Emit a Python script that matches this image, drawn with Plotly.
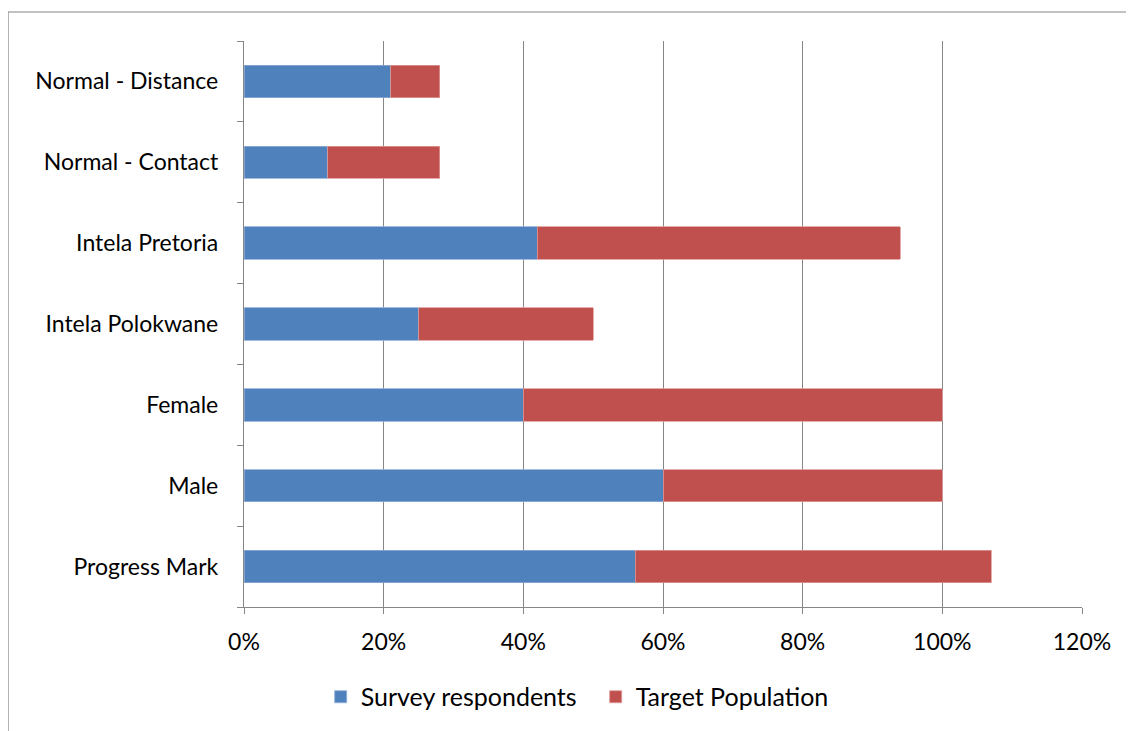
import plotly.graph_objects as go

categories = ["Progress Mark", "Male", "Female", "Intela Polokwane",
              "Intela Pretoria", "Normal - Contact", "Normal - Distance"]
survey_respondents = [0.56, 0.60, 0.40, 0.25, 0.42, 0.12, 0.21]
target_population = [0.51, 0.40, 0.60, 0.25, 0.52, 0.16, 0.07]
x_tick_vals = [0, 0.2, 0.4, 0.6, 0.8, 1.0, 1.2]
x_tick_text = ["0%", "20%", "40%", "60%", "80%", "100%", "120%"]

FONT = "Lato, 'Open Sans', sans-serif"
GRID = "#868686"

fig = go.Figure()
fig.add_trace(go.Bar(
    y=categories, x=survey_respondents, orientation="h",
    name="Survey respondents",
    marker=dict(color="#4F81BD", line=dict(color="#8EADD8", width=0.8)),
))
fig.add_trace(go.Bar(
    y=categories, x=target_population, orientation="h",
    name="Target Population",
    marker=dict(color="#C0504D", line=dict(color="#DE9896", width=0.8)),
))

fig.update_layout(
    barmode="stack",
    bargap=0.6,
    width=1134, height=731,
    margin=dict(l=236, r=60, t=33, b=132),
    paper_bgcolor="white", plot_bgcolor="white",
    font=dict(family=FONT, size=23, color="black"),
    showlegend=True,
    legend=dict(
        orientation="h", x=0.0915, xanchor="left", y=-0.159, yanchor="middle",
        font=dict(family=FONT, size=25, color="black"),
        itemwidth=30, traceorder="normal", tracegroupgap=0,
        entrywidth=230, entrywidthmode="pixels",
        bgcolor="rgba(0,0,0,0)",
    ),
    shapes=[
        dict(type="line", xref="paper", yref="paper",
             x0=-0.2816, x1=1.2, y0=1.0512, y1=1.0512,
             line=dict(color=GRID, width=1.2)),
        dict(type="line", xref="paper", yref="paper",
             x0=-0.2816, x1=-0.2816, y0=1.0512, y1=-0.4,
             line=dict(color=GRID, width=1.2)),
    ],
)

fig.update_xaxes(
    range=[0, 1.2], tickvals=x_tick_vals, ticktext=x_tick_text,
    showgrid=True, gridcolor=GRID, gridwidth=1.3,
    showline=True, linecolor=GRID, linewidth=1.3,
    ticks="outside", ticklen=6, tickcolor=GRID, tickwidth=1.3,
    zeroline=False, ticklabelstandoff=8, fixedrange=True,
)
fig.update_yaxes(
    categoryorder="array", categoryarray=categories,
    showgrid=False,
    showline=True, linecolor=GRID, linewidth=1.3,
    ticks="outside", ticklen=6, tickcolor=GRID, tickwidth=1.3,
    tickson="boundaries", ticklabelstandoff=20, fixedrange=True,
)

fig.write_html("out.html")
